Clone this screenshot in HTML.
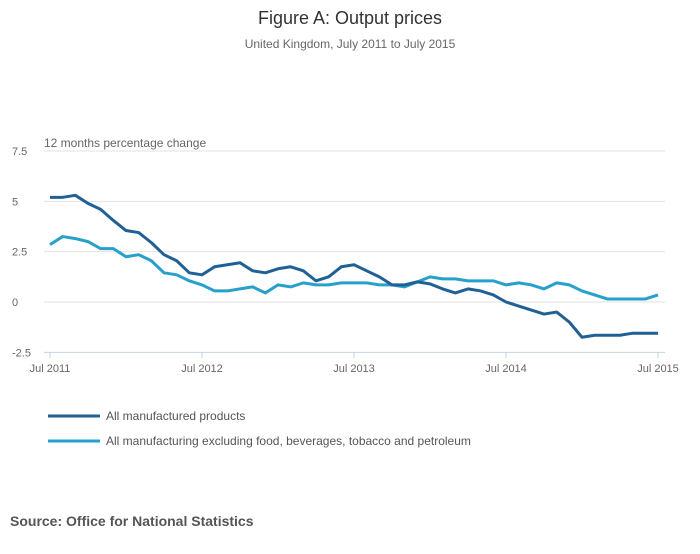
<!DOCTYPE html>
<html><head><meta charset="utf-8"><style>
body{margin:0;background:#fff;font-family:"Liberation Sans",sans-serif;}
svg text{font-family:"Liberation Sans",sans-serif;}
</style></head><body>
<svg width="700" height="549">
<text x="350" y="24" text-anchor="middle" font-size="18" fill="#333">Figure A: Output prices</text>
<text x="350" y="48" text-anchor="middle" font-size="12" fill="#666">United Kingdom, July 2011 to July 2015</text>
<text x="44" y="147" font-size="12" fill="#666">12 months percentage change</text>
<g id="grid"></g>
<g id="lines"></g>
<line x1="48" y1="416" x2="100" y2="416" stroke="#206095" stroke-width="3"/>
<text x="106" y="420" font-size="12" fill="#555">All manufactured products</text>
<line x1="48" y1="441" x2="100" y2="441" stroke="#27a0cc" stroke-width="3"/>
<text x="106" y="445" font-size="12" fill="#555">All manufacturing excluding food, beverages, tobacco and petroleum</text>
<text x="10" y="526" font-size="14" font-weight="bold" fill="#555">Source: Office for National Statistics</text>
</svg>
<script>
const yTicks=[7.5,5,2.5,0,-2.5];
const yTickLabels=["7.5","5","2.5","0","-2.5"];
const xTickIdx=[0,12,24,36,48];
const xTickLabels=["Jul 2011","Jul 2012","Jul 2013","Jul 2014","Jul 2015"];
const seriesAll=[5.2,5.2,5.3,4.9,4.6,4.05,3.55,3.45,2.95,2.35,2.05,1.45,1.35,1.75,1.85,1.95,1.55,1.45,1.65,1.75,1.55,1.05,1.25,1.75,1.85,1.55,1.25,0.85,0.85,1.0,0.9,0.65,0.45,0.65,0.55,0.35,0,-0.2,-0.4,-0.6,-0.5,-1.0,-1.75,-1.65,-1.65,-1.65,-1.55,-1.55,-1.55];
const seriesExcl=[2.85,3.25,3.15,3.0,2.65,2.65,2.25,2.35,2.05,1.45,1.35,1.05,0.85,0.55,0.55,0.65,0.75,0.45,0.85,0.75,0.95,0.85,0.85,0.95,0.95,0.95,0.85,0.85,0.75,1.0,1.25,1.15,1.15,1.05,1.05,1.05,0.85,0.95,0.85,0.65,0.95,0.85,0.55,0.35,0.15,0.15,0.15,0.15,0.35];
const NS="http://www.w3.org/2000/svg";
const xS=i=>50+i*(608/48);
const yS=v=>302-v*20.13;
function mk(t,a,p){const e=document.createElementNS(NS,t);for(const k in a)e.setAttribute(k,a[k]);p.appendChild(e);return e;}
const g=document.getElementById('grid');
yTicks.forEach((v,k)=>{
  const l=mk('line',{x1:44,x2:665,y1:yS(v),y2:yS(v),stroke:v===-2.5?'#c6d3e3':'#e2e2e2','stroke-width':1},g);
  
  
  const t=mk('text',{x:12,y:yS(v)+4,'font-size':11,fill:'#666'},g);
  t.textContent=yTickLabels[k];
  
  
});
xTickIdx.forEach((i,k)=>{
  const l=mk('line',{x1:xS(i),x2:xS(i),y1:352,y2:358,stroke:'#c6d3e3'},g);
  
  
  const t=mk('text',{x:xS(i),y:372,'font-size':11,fill:'#666','text-anchor':'middle'},g);
  t.textContent=xTickLabels[k];
  
  
});
const lg=document.getElementById('lines');
[[seriesExcl,'#27a0cc','line-excluding'],[seriesAll,'#206095','line-all-products']].forEach(([s,c,n])=>{
  const p=mk('polyline',{points:s.map((v,i)=>xS(i)+','+yS(v)).join(' '),fill:'none',stroke:c,'stroke-width':3,'stroke-linejoin':'round'},lg);
  
  
});
</script>
</body></html>
